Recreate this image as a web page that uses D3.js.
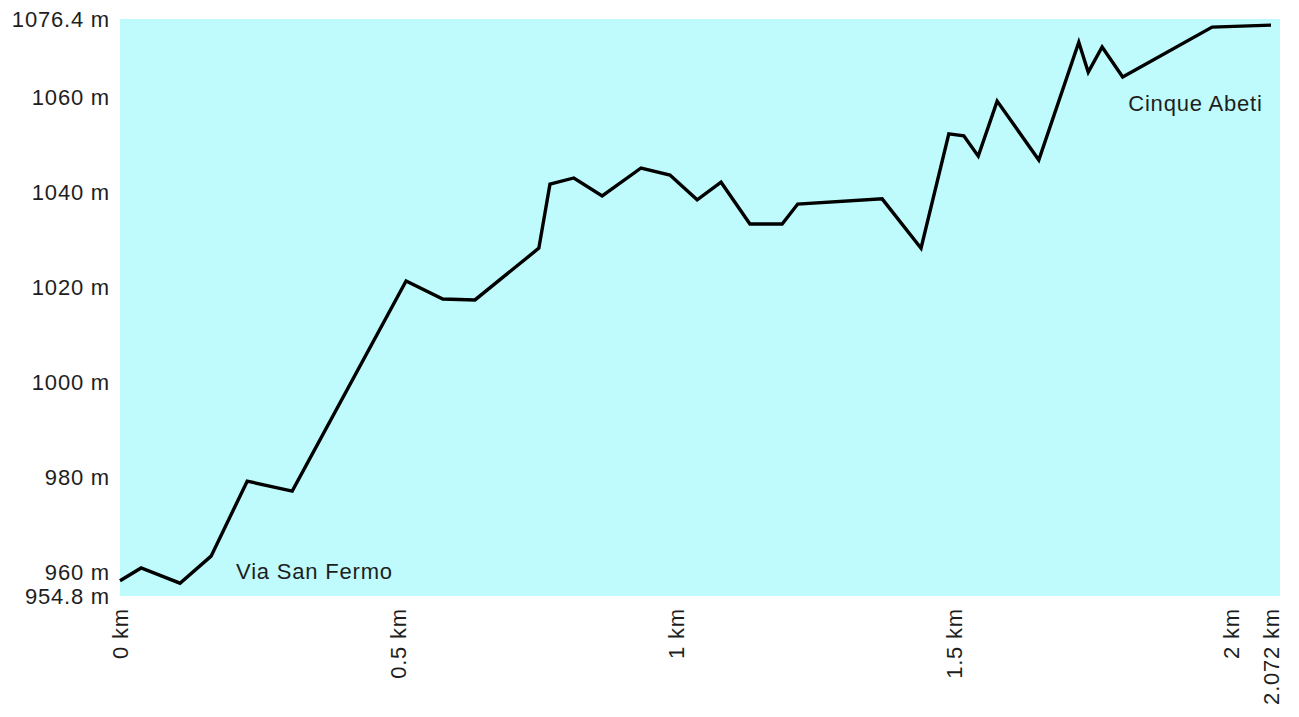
<!DOCTYPE html>
<html>
<head>
<meta charset="utf-8">
<script src="https://cdn.jsdelivr.net/npm/d3@7/dist/d3.min.js"></script>
<style>
  html, body { margin: 0; padding: 0; background: #ffffff; }
  svg { display: block; }
  text { font-family: "Liberation Sans", Arial, sans-serif; font-size: 22px; letter-spacing: 0.8px; fill: #1e1e1e; }
</style>
</head>
<body>
<script>
// Distance along the route (km)
const distanceKm = [0, 0.038, 0.108, 0.164, 0.229, 0.310, 0.515, 0.581, 0.639, 0.754,
  0.774, 0.817, 0.868, 0.938, 0.990, 1.039, 1.082, 1.134, 1.192, 1.220,
  1.372, 1.442, 1.492, 1.519, 1.545, 1.579, 1.654, 1.726, 1.743, 1.768,
  1.805, 1.966, 2.072];
// Elevation (m)
const elevationM = [958.0, 960.7, 957.5, 963.2, 979.0, 976.9, 1021.2, 1017.4, 1017.2, 1028.1,
  1041.6, 1042.9, 1039.1, 1045.0, 1043.5, 1038.3, 1042.0, 1033.2, 1033.2, 1037.4,
  1038.5, 1028.1, 1052.2, 1051.8, 1047.5, 1059.1, 1046.7, 1071.5, 1065.2, 1070.5,
  1064.2, 1074.7, 1075.1];

const yTickValues = [954.8, 960, 980, 1000, 1020, 1040, 1060, 1076.4];
const yTickLabels = ["954.8 m", "960 m", "980 m", "1000 m", "1020 m", "1040 m", "1060 m", "1076.4 m"];
const xTickValues = [0, 0.5, 1, 1.5, 2, 2.072];
const xTickLabels = ["0 km", "0.5 km", "1 km", "1.5 km", "2 km", "2.072 km"];

const placeNames = ["Via San Fermo", "Cinque Abeti"];
const placeKm = [0.209, 1.815];
const placeElev = [958.4, 1057.0];

const W = 1299, H = 717;
const plot = { left: 120, right: 1280, top: 19, bottom: 596 };

const svg = d3.select("body").append("svg").attr("width", W).attr("height", H);

const x = d3.scaleLinear().domain([0, 2.072]).range([120, 1271]);
const y = d3.scaleLinear().domain([954.8, 1076.4]).range([plot.bottom, plot.top]);

svg.append("rect")
  .attr("x", plot.left).attr("y", plot.top)
  .attr("width", plot.right - plot.left).attr("height", plot.bottom - plot.top)
  .attr("fill", "#bffbfc");

// Y axis labels
const yAxis = d3.axisLeft(y).tickValues(yTickValues)
  .tickFormat((d, i) => yTickLabels[i]).tickSize(0).tickPadding(10);
const gy = svg.append("g").attr("transform", `translate(${plot.left},0)`).call(yAxis);
gy.select(".domain").remove();
gy.attr("font-size", null).attr("font-family", null);
gy.selectAll("text").attr("fill", null).attr("dy", "0.36em");

// X axis labels (rotated)
const xAxis = d3.axisBottom(x).tickValues(xTickValues)
  .tickFormat((d, i) => xTickLabels[i]).tickSize(0).tickPadding(0);
const gx = svg.append("g").attr("transform", `translate(0,${plot.bottom})`).call(xAxis);
gx.select(".domain").remove();
gx.attr("font-size", null).attr("font-family", null);
gx.selectAll("text")
  .attr("fill", null)
  .attr("y", 0).attr("dy", "0.36em")
  .attr("x", -12)
  .attr("transform", "rotate(-90)")
  .style("text-anchor", "end");

// Profile line
const data = distanceKm.map((d, i) => [d, elevationM[i]]);
svg.append("path")
  .datum(data)
  .attr("fill", "none")
  .attr("stroke", "#000")
  .attr("stroke-width", 3.4)
  .attr("stroke-linejoin", "miter")
  .attr("d", d3.line().x(d => x(d[0])).y(d => y(d[1])));

// Place labels
svg.selectAll("text.place")
  .data(placeNames)
  .enter().append("text")
  .attr("class", "place")
  .attr("x", (d, i) => x(placeKm[i]))
  .attr("y", (d, i) => y(placeElev[i]))
  .text(d => d);
</script>
</body>
</html>
